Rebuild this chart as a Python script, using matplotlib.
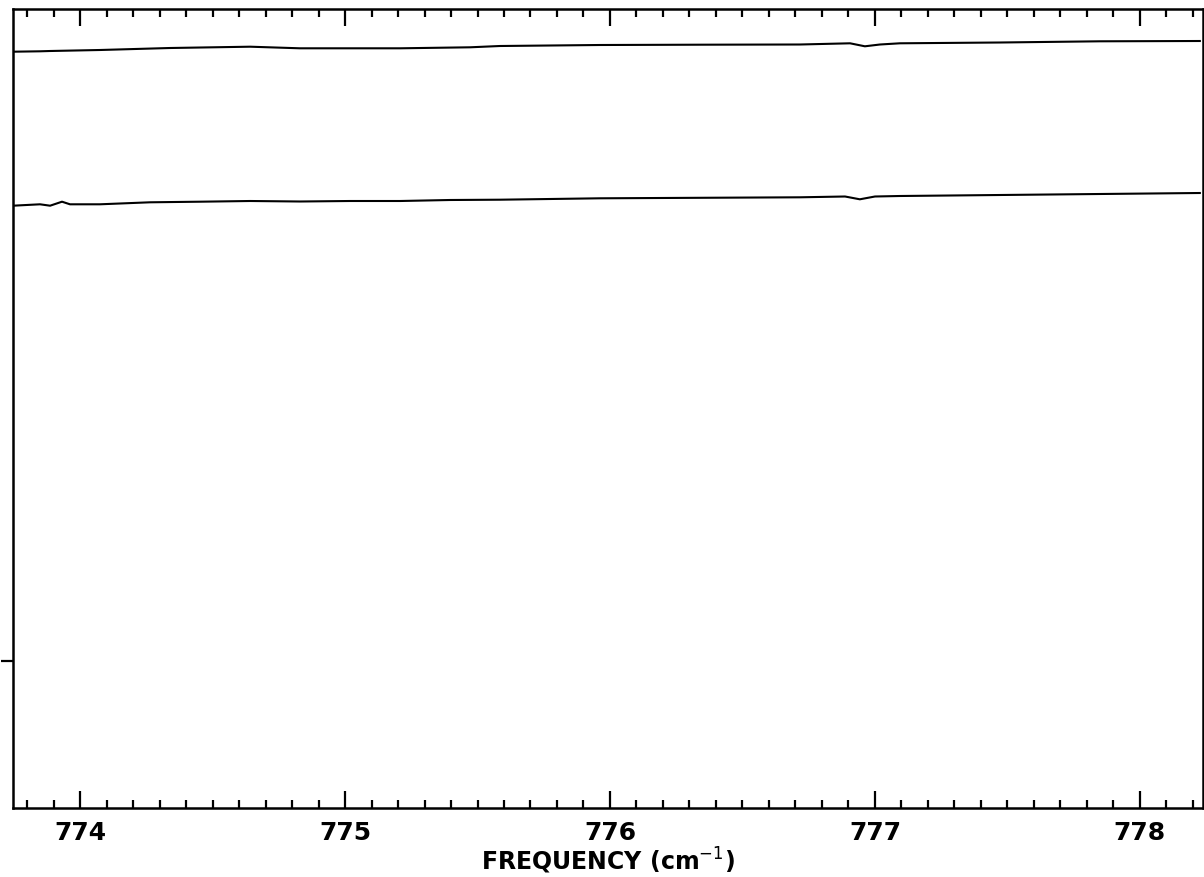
import numpy as np
import matplotlib
matplotlib.use("Agg")
import matplotlib.pyplot as plt
from matplotlib.ticker import MultipleLocator, FixedLocator

# ---- data (arbitrary intensity units, 0 = y tick) ----
freq_upper = [773.747, 773.849, 773.887, 774.075, 774.340, 774.642, 774.830,
              775.208, 775.472, 775.585, 775.962, 776.340, 776.717, 776.906,
              776.962, 777.019, 777.094, 777.472, 777.849, 778.226]
sig_upper = [609.3, 609.7, 610.0, 611.0, 613.0, 614.3, 612.7,
             612.7, 613.7, 615.0, 616.0, 616.3, 616.5, 617.7,
             614.7, 616.5, 617.7, 618.5, 619.7, 620.0]

freq_lower = [773.747, 773.849, 773.887, 773.932, 773.962, 774.075, 774.264,
              774.453, 774.642, 774.830, 775.019, 775.208, 775.396, 775.585,
              775.774, 775.962, 776.340, 776.717, 776.887, 776.943, 777.000,
              777.094, 777.472, 777.849, 778.226]
sig_lower = [455.3, 456.7, 455.3, 459.3, 456.7, 456.7, 458.7,
             459.3, 460.0, 459.5, 460.0, 460.0, 461.0, 461.3,
             462.0, 462.7, 463.2, 463.7, 464.5, 461.7, 464.5,
             465.0, 466.0, 467.0, 468.0]

x_range = (773.747, 778.238)
y_range = (-147, 652)
x_major = [774, 775, 776, 777, 778]
y_ticks = [0]

# ================= PLOT =================
fig = plt.figure(figsize=(12.04, 8.77), dpi=100)
ax = fig.add_axes([13/1204, 69/877, 1190/1204, 799/877])

ax.plot(freq_upper, sig_upper, color='black', lw=1.5)
ax.plot(freq_lower, sig_lower, color='black', lw=1.5)

ax.set_xlim(*x_range)
ax.set_ylim(*y_range)

for s in ax.spines.values():
    s.set_linewidth(1.8)

ax.xaxis.set_major_locator(FixedLocator(x_major))
ax.xaxis.set_minor_locator(MultipleLocator(0.1))
ax.set_xticklabels([str(v) for v in x_major])
ax.yaxis.set_major_locator(FixedLocator(y_ticks))
ax.set_yticklabels([])

ax.tick_params(axis='x', which='major', direction='in', length=12, width=1.6,
               top=True, bottom=True, labelsize=18, pad=9)
ax.tick_params(axis='x', which='minor', direction='in', length=6, width=1.6,
               top=True, bottom=True)
ax.tick_params(axis='y', which='major', direction='out', length=9, width=1.6,
               left=True, right=False)

for lab in ax.get_xticklabels():
    lab.set_fontweight('bold')

ax.set_xlabel(r'FREQUENCY (cm$^{-1}$)', fontsize=17, fontweight='bold', labelpad=1)

fig.savefig('out.png', dpi=100)
